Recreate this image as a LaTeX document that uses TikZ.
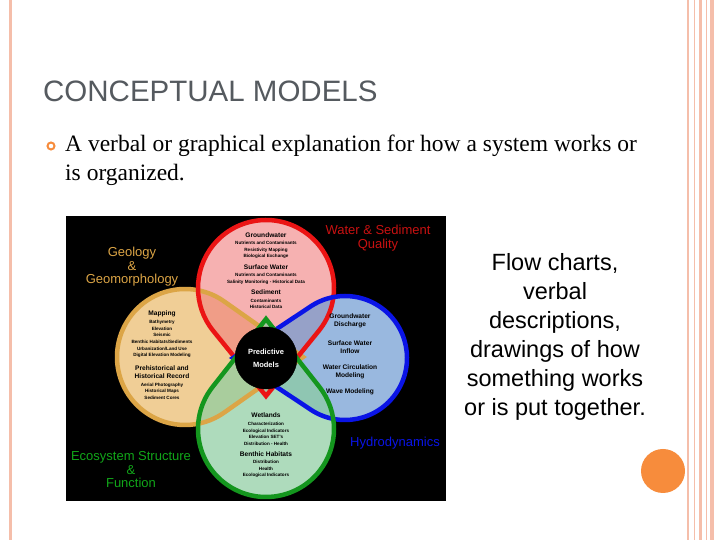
\documentclass[tikz,border=0pt]{standalone}
\usepackage{fontspec}
\setmainfont{Liberation Serif}
\newfontfamily\ars{Liberation Sans}
\usetikzlibrary{calc}
\definecolor{pinkb}{RGB}{245,190,170}
\definecolor{orng}{RGB}{247,140,60}
\definecolor{ttl}{RGB}{85,90,95}
\definecolor{redd}{RGB}{235,20,20}
\definecolor{redf}{RGB}{240,125,125}
\definecolor{ord}{RGB}{220,165,70}
\definecolor{orf}{RGB}{235,190,115}
\definecolor{bld}{RGB}{10,20,230}
\definecolor{blf}{RGB}{110,155,210}
\definecolor{grd}{RGB}{20,150,30}
\definecolor{grf}{RGB}{140,205,160}
\newcommand\petal[5]{%
  \pgfmathsetmacro\pa{acos(#2/#4)}%
  \path[#5] (#1) ++(#3:#4) -- ($(#1)+(#3+\pa:#2)$) arc[start angle=#3+\pa, end angle=#3-\pa+360, radius=#2] -- cycle;}
\tikzset{
  tiny/.style={font=\ars\bfseries\fontsize{4.6}{6.6}\selectfont,align=center,text=black,inner sep=0},
  hd/.style={font=\ars\bfseries\fontsize{6.6}{8}\selectfont,align=center,text=black,inner sep=0},
  lab/.style={font=\ars\fontsize{13}{13.5}\selectfont,align=center,inner sep=0},
}
\begin{document}
\begin{tikzpicture}[x=1pt,y=1pt]
\useasboundingbox (0,0) rectangle (720,540);
\fill[white] (0,0) rectangle (720,540);
% borders
\draw[pinkb,line width=3pt] (10,0) -- (10,540);
\foreach \x/\w in {688/2,694/1,700/3,706/1,712/4}{\draw[pinkb,line width=\w pt] (\x,0)--(\x,540);}
\fill[orng] (663,69) circle (22);
\node[anchor=west,text=ttl,font=\ars\fontsize{29.5}{30}\selectfont,inner sep=0] (title) at (43,449) {CONCEPTUAL MODELS};
\draw[orng,line width=2pt] (51,394) circle (3.5);
\node[anchor=north west,align=left,font=\fontsize{23.5}{29}\selectfont,inner sep=0] (bul) at (65,405) {A verbal or graphical explanation for how a system works or\\is organized.};
\node[align=center,font=\ars\fontsize{23.5}{29}\selectfont,inner sep=0] (side) at (555,203) {Flow charts,\\verbal\\descriptions,\\drawings of how\\something works\\or is put together.};
% image
\fill[black] (66,39) rectangle (446,324);
\petal{185,183}{68}{0}{118}{fill=white}
\petal{266,252}{68}{270}{108}{fill=white}
\petal{345,182}{62}{180}{112}{fill=white}
\petal{266,111}{68}{90}{110}{fill=white}
\petal{185,183}{68}{0}{118}{fill=orf,fill opacity=.75}
\petal{266,252}{68}{270}{108}{fill=redf,fill opacity=.6}
\petal{345,182}{62}{180}{112}{fill=blf,fill opacity=.7}
\petal{266,111}{68}{90}{110}{fill=grf,fill opacity=.7}
\petal{185,183}{68}{0}{118}{draw=ord,line width=4.5pt}
\petal{266,252}{68}{270}{108}{draw=redd,line width=4.5pt}
\petal{345,182}{62}{180}{112}{draw=bld,line width=4.5pt}
\petal{266,111}{68}{90}{110}{draw=grd,line width=4.5pt}
\node[circle,fill=black,draw=black,minimum size=62pt,inner sep=0,text=white,font=\ars\bfseries\fontsize{7.5}{13}\selectfont,align=center] (pm) at (266,182) {Predictive\\Models};
% red texts
\node[hd] at (266,305) {Groundwater};
\node[tiny] at (266,290) {Nutrients and Contaminants\\Resistivity Mapping\\Biological Exchange};
\node[hd] at (266,273) {Surface Water};
\node[tiny] at (266,261) {Nutrients and Contaminants\\Salinity Monitoring - Historical Data};
\node[hd] at (266,248) {Sediment};
\node[tiny] at (266,236) {Contaminants\\Historical Data};
% orange
\node[hd] at (162,226) {Mapping};
\node[tiny] at (162,201) {Bathymetry\\Elevation\\Seismic\\Benthic Habitats/Sediments\\Urbanization/Land Use\\Digital Elevation Modeling};
\node[hd] at (162,168) {Prehistorical and\\Historical Record};
\node[tiny] at (162,149) {Aerial Photography\\Historical Maps\\Sediment Cores};
% blue
\node[hd] at (350,219) {Groundwater\\Discharge};
\node[hd] at (350,193) {Surface Water\\Inflow};
\node[hd] at (350,168) {Water Circulation\\Modeling};
\node[hd] at (350,148) {Wave Modeling};
% green
\node[hd] at (266,125) {Wetlands};
\node[tiny] at (266,106) {Characterization\\Ecological Indicators\\Elevation SET's\\Distribution - Health};
\node[hd] at (266,86) {Benthic Habitats};
\node[tiny] at (266,71) {Distribution\\Health\\Ecological Indicators};
% labels
\node[lab,text=redd!85!black] at (378,302) {Water \& Sediment\\Quality};
\node[lab,text=ord] at (132,273) {Geology\\\&\\Geomorphology};
\node[lab,text=grd!85!green] at (131,70) {Ecosystem Structure\\\&\\Function};
\node[lab,text=bld] at (395,97) {Hydrodynamics};
\end{tikzpicture}
\end{document}
